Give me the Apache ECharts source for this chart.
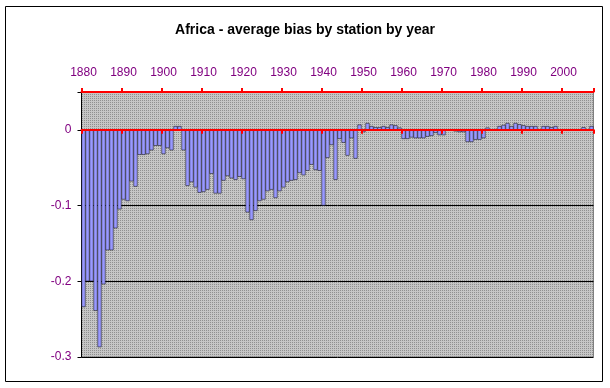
<!DOCTYPE html>
<html>
<head>
<meta charset="utf-8">
<script src="https://cdn.jsdelivr.net/npm/echarts@6/dist/echarts.min.js"></script>
<style>
html,body{margin:0;padding:0;background:#fff;}
#chart{width:610px;height:388px;}
</style>
</head>
<body>
<div id="chart"></div>
<script>
// ---- Data ----
var years = [];
for (var y = 1880; y <= 2007; y++) years.push(String(y));

var bias = [
  -0.234, -0.200, -0.200, -0.239, -0.287, -0.204, -0.159, -0.159, -0.130, -0.105,
  -0.092, -0.094, -0.068, -0.075, -0.033, -0.033, -0.032, -0.027, -0.021, -0.021,
  -0.032, -0.024, -0.027, 0.005, 0.005, -0.027, -0.074, -0.069, -0.076, -0.083,
  -0.082, -0.079, -0.058, -0.084, -0.084, -0.067, -0.061, -0.064, -0.066, -0.062,
  -0.065, -0.109, -0.119, -0.107, -0.094, -0.092, -0.081, -0.079, -0.090, -0.081,
  -0.076, -0.069, -0.067, -0.066, -0.057, -0.060, -0.054, -0.046, -0.053, -0.054,
  -0.100, -0.037, -0.020, -0.066, -0.012, -0.017, -0.034, -0.011, -0.038, 0.007,
  -0.003, 0.009, 0.005, 0.0035, 0.0035, 0.005, 0.0035, 0.007, 0.006, 0.003,
  -0.012, -0.012, -0.010, -0.011, -0.011, -0.011, -0.009, -0.008, -0.004, -0.007,
  -0.007, -0.001, 0, -0.002, -0.003, -0.003, -0.016, -0.016, -0.013, -0.013,
  -0.011, 0.003, 0, 0.001, 0.005, 0.0065, 0.009, 0.005, 0.009, 0.0075,
  0.006, 0.005, 0.005, 0.005, 0, 0.005, 0.005, 0.0035, 0.005, 0,
  0, 0, 0, 0, 0, 0.0035, 0, 0.005
];

var yTicks = [-0.3, -0.2, -0.1, 0];
var titleText = 'Africa - average bias by station by year';

// ---- Plot-area dotted pattern ----
var pc = document.createElement('canvas');
pc.width = 2; pc.height = 2;
var pctx = pc.getContext('2d');
pctx.fillStyle = '#c6c6c6';
pctx.fillRect(0, 0, 2, 2);
pctx.fillStyle = '#909090';
pctx.fillRect(0, 0, 1, 1);

var FONT = "'Liberation Sans', Arial, sans-serif";
var LABEL_COLOR = '#800080';

var chart = echarts.init(document.getElementById('chart'), null, {renderer: 'canvas'});
chart.setOption({
  animation: false,
  backgroundColor: '#ffffff',
  title: {
    text: titleText,
    left: 'center',
    top: 18,
    textStyle: {fontFamily: FONT, fontSize: 14, fontWeight: 'bold', color: '#000'}
  },
  graphic: [{
    type: 'rect',
    shape: {x: 5.5, y: 6.5, width: 597, height: 375},
    style: {fill: 'none', stroke: '#000', lineWidth: 1},
    z: 10,
    silent: true
  }],
  grid: {
    left: 81.5, top: 92, width: 512, height: 265,
    show: true,
    backgroundColor: {image: pc, repeat: 'repeat'},
    borderColor: '#808080',
    borderWidth: 1
  },
  xAxis: [
    {
      type: 'category', data: years, position: 'bottom', z: 5,
      axisLine: {onZero: true, lineStyle: {color: '#ff0000', width: 2}},
      axisTick: {show: true, interval: 9, length: 4, lineStyle: {color: '#ff0000', width: 2}},
      axisLabel: {show: false},
      splitLine: {show: false}
    },
    {
      type: 'category', data: years, position: 'top', z: 5,
      axisLine: {onZero: true, lineStyle: {color: '#ff0000', width: 2}},
      axisTick: {show: true, interval: 9, length: 4, lineStyle: {color: '#ff0000', width: 2}},
      axisLabel: {show: false},
      splitLine: {show: false}
    },
    {
      type: 'category', data: years, position: 'top',
      axisLine: {show: false, onZero: false},
      axisTick: {show: false},
      axisLabel: {show: true, interval: 9, margin: 13, color: LABEL_COLOR, fontFamily: FONT, fontSize: 12},
      splitLine: {show: false}
    }
  ],
  yAxis: {
    type: 'value',
    min: -0.3, max: 0.05, interval: 0.1,
    axisLine: {show: true, lineStyle: {color: '#000', width: 1}},
    axisTick: {show: true, length: 4, lineStyle: {color: '#000'}},
    axisLabel: {
      margin: 10, color: LABEL_COLOR, fontFamily: FONT, fontSize: 12,
      formatter: function (v) {
        for (var i = 0; i < yTicks.length; i++) {
          if (Math.abs(v - yTicks[i]) < 1e-9) return String(yTicks[i]);
        }
        return '';
      }
    },
    splitLine: {show: true, showMaxLine: false, lineStyle: {color: '#000', width: 1}}
  },
  series: [{
    type: 'bar',
    xAxisIndex: 0,
    data: bias,
    barCategoryGap: '0%',
    itemStyle: {color: '#9999ff', borderColor: '#000', borderWidth: 0.5},
    z: 2
  }]
});
</script>
</body>
</html>
